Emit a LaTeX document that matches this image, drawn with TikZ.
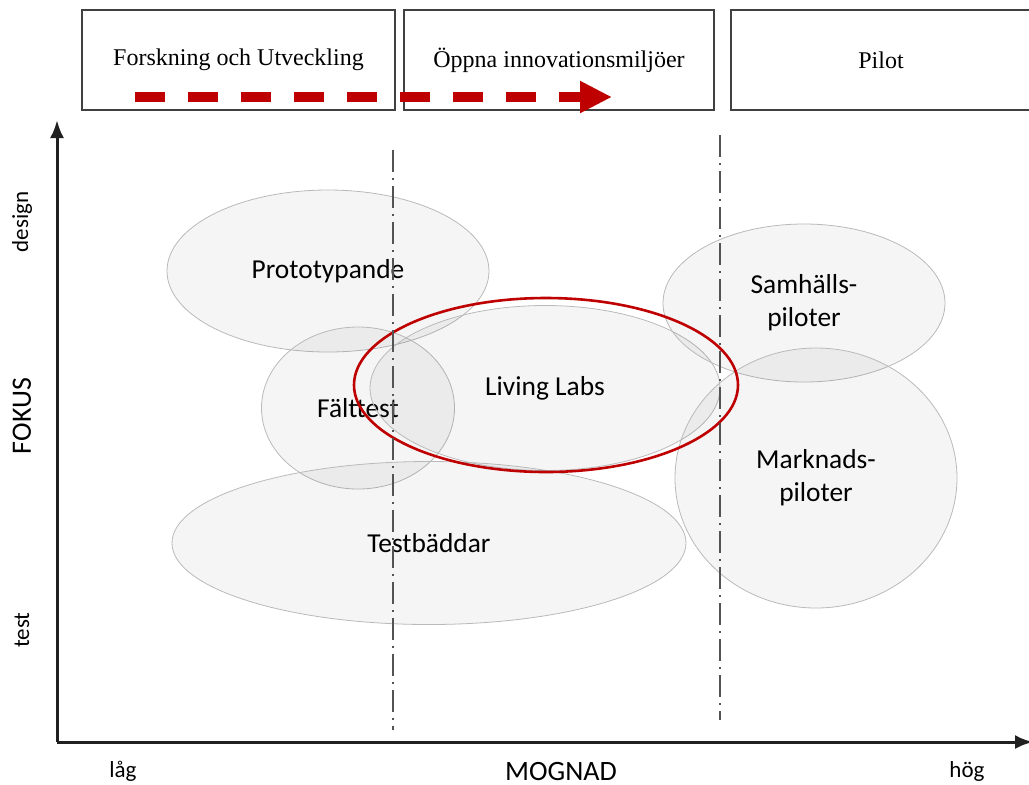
\documentclass[tikz,border=0pt]{standalone}
\usepackage{fontspec}
\setmainfont{Liberation Serif}
\newfontfamily\calfont{Carlito}
\usetikzlibrary{arrows,arrows.meta,shapes,positioning}

\begin{document}
\begin{tikzpicture}[x=0.5pt,y=-0.5pt,
		phase/.style   = {draw=gray!50!black, line width=1.3pt, rectangle, minimum height=50pt, font=\fontsize{12}{14}\selectfont},
		zone/.style    = {ellipse, draw=gray!55, thin, fill=black, fill opacity=0.04, text opacity=1, align=center, inner sep=0pt, font=\calfont\fontsize{13.7}{16.5}\selectfont},
		focus/.style   = {ellipse, draw=red!75!black, line width=1.3pt, inner sep=0pt},
		divider/.style = {draw=gray!65!black, line width=1.2pt, dash pattern=on 11pt off 3pt on 1pt off 3pt},
		axis/.style    = {draw=gray!25!black, line width=1.5pt, -{Latex[length=9pt,width=7pt]}},
		tag/.style     = {font=\calfont\fontsize{11.5}{14}\selectfont},
		title/.style   = {font=\calfont\fontsize{14}{16}\selectfont},
		>=latex]
		
		\useasboundingbox (0,0) rectangle (1029,784);
		\clip (0,0) rectangle (1029,784);
		
		% phases along the top
		\node[phase, minimum width=156.5pt] (fou) at (238.5,60) {Forskning och Utveckling};
		\node[phase, minimum width=155pt, right=3.2pt of fou] (oppna) {Öppna innovationsmiljöer};
		\node[phase, minimum width=150pt, right=7.2pt of oppna] (pilot) {Pilot};
		
		% red dashed arrow through the phases
		\coordinate (run start) at (135,97);
		\coordinate (run end) at (612,97);
		\draw[draw=red!75!black, line width=5pt, dash pattern=on 15pt off 11.5pt, -{Triangle[length=16pt,width=15pt]}] (run start) -- (run end);
		
		% axes
		\coordinate (origo) at (57,742);
		\coordinate (fokus top) at (57,120);
		\coordinate (mognad end) at (1033,742);
		\draw[axis] (origo) -- (fokus top);
		\draw[axis] (origo) -- (mognad end);
		
		% the environments
		\node[zone, minimum width=161pt, minimum height=81pt] (proto) at (328,271) {Prototypande};
		\node[zone, minimum width=96.5pt, minimum height=81pt] (falt) at (358,408) {Fälttest};
		\node[zone, minimum width=175pt, minimum height=82.5pt] (ll) at (545,388) {Living Labs};
		\node[zone, minimum width=257pt, minimum height=81.5pt] (testbed) at (429,543) {Testbäddar};
		\node[zone, minimum width=141pt, minimum height=79pt] (samh) at (804,303) {Samhälls-\\piloter};
		\node[zone, minimum width=141pt, minimum height=130pt] (markn) at (816,478) {Marknads-\\piloter};
		\node[focus, minimum width=192pt, minimum height=87pt] (llring) at (546,385) {};
		
		% borders between the phases
		\coordinate (d1 top) at (393,150);
		\coordinate (d1 bot) at (393,730);
		\coordinate (d2 top) at (720,135);
		\coordinate (d2 bot) at (720,720);
		\foreach \n in {1,2}
		\draw[divider] (d\n\space top) -- (d\n\space bot);
		
		% axis labels
		\node[tag, rotate=90] (design) at (22,222) {design};
		\node[title, rotate=90] (fokus) at (22,416) {FOKUS};
		\node[tag, rotate=90] (test) at (22,630) {test};
		\node[tag] (lag) at (123,771) {låg};
		\node[title] (mognad) at (561,771) {MOGNAD};
		\node[tag] (hog) at (967,771) {hög};
		
	\end{tikzpicture}
\end{document}
